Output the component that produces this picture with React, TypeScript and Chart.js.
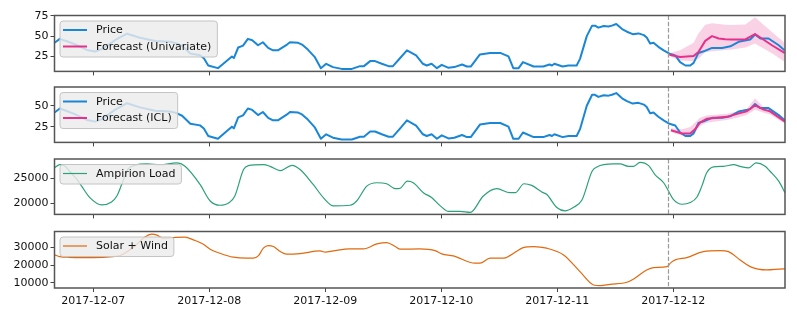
import React, { useEffect, useRef } from 'react';
import { Chart, registerables } from 'chart.js';

Chart.register(...registerables);

const FONT = '"DejaVu Sans", "Liberation Sans", sans-serif';
const X_MIN = 16;
const X_MAX = 167.1;
const CUTOFF = 143;

const dayTicks = [24, 48, 72, 96, 120, 144];
const dayLabels = ['2017-12-07', '2017-12-08', '2017-12-09', '2017-12-10', '2017-12-11', '2017-12-12'];

// hours since 2017-12-06 00:00
const priceHours = [
  16.0, 17.1, 18.4, 20.2, 22.7, 24.4, 25.8, 28.5, 31.0, 33.7, 36.8, 39.9, 41.1, 42.4, 44.1, 46.1, 46.9, 47.8, 49.8,
  51.9, 52.7, 53.1, 54.0, 55.0, 56.0, 56.9, 58.1, 59.1, 60.2, 61.2, 62.2, 64.1, 64.7, 66.4, 67.2, 68.4, 69.8, 71.1,
  72.2, 73.6, 75.4, 77.5, 79.2, 80.0, 81.3, 82.3, 83.7, 85.1, 86.0, 87.5, 88.9, 90.8, 92.2, 93.0, 94.0, 95.1, 96.1,
  97.5, 98.7, 100.3, 101.3, 102.1, 104.0, 106.1, 108.2, 109.9, 110.9, 112.0, 112.9, 115.1, 117.1, 118.4, 118.9,
  119.4, 121.1, 122.3, 124.0, 124.7, 126.1, 127.2, 127.8, 128.5, 129.6, 130.6, 131.3, 132.2, 133.4, 134.4, 135.6,
  136.8, 137.9, 138.5, 139.2, 139.9, 140.9, 142.0, 143.2, 144.4, 145.4, 146.5, 147.5, 148.2, 149.2, 150.3, 152.0,
  154.1, 155.8, 157.5, 159.9, 160.9, 162.0, 163.7, 165.8, 167.0,
];
const priceValues = [
  41.8, 46.7, 44, 40, 33, 31, 34, 45, 53, 48, 44, 43, 41.4, 38, 28.5, 26.5, 22.7, 13.8, 10.5,
  21, 25, 23, 36, 38.4, 46.7, 45, 38.8, 42.5, 35.5, 32.5, 32.5, 39.6, 42.5, 41.8, 39.6, 33.4, 24.5, 10.5,
  15.9, 11.8, 9.6, 9.6, 13, 13, 19.2, 19.2, 15.9, 13, 13, 23, 32.5, 26.3, 15.9, 13.8, 15.9, 10.5, 14.6,
  10.9, 11.8, 15, 12.5, 12.5, 27.5, 29.3, 29.3, 25, 10.5, 10.5, 18, 12.5, 12.5, 15, 13.8,
  15.9, 12.5, 13.8, 13.8, 22, 50, 63, 63, 60.5, 62.5, 62, 63, 65, 58.8, 55.5, 52.5,
  53.4, 51.3, 48.4, 40.9, 41.8, 36.8, 32.5, 28.4, 26.3, 18, 13.8, 13.8, 17, 29.3, 31.3, 35.5,
  35.5, 37.5, 43, 45.9, 52.1, 47.1, 47.1, 38.8, 32.5,
];

const uniHours = [143.2, 145.4, 148.2, 149.2, 150.6, 152.0, 153.4, 154.7, 156.1, 158.9, 160.9, 162.3, 164.4, 167.0];
const uniForecast = [27.1, 24.2, 25.4, 30.5, 44.2, 50, 47.1, 46.3, 45.9, 45.9, 52.5, 47.1, 38.8, 29.3];
const uniUpper = [29, 32.5, 42, 53.4, 64, 66, 65, 64, 63.8, 64.5, 73.4, 66, 55, 42];
const uniLower = [25.5, 20, 19, 22, 30, 31.5, 32, 33, 33.5, 36, 41, 36, 29, 18.5];

const iclHours = [143.5, 145.8, 147.5, 148.5, 149.5, 150.9, 153.0, 155.1, 157.2, 159.2, 160.9, 162.7, 164.0, 167.1];
const iclForecast = [20.7, 16.8, 16.8, 21.8, 29.7, 34.4, 35.5, 36.7, 40.2, 43.3, 50.3, 45.3, 43.3, 30.9];
const iclUpper = [23, 22, 24.5, 30, 35.5, 38.2, 39.5, 40.5, 43, 46, 59, 48, 45.3, 35.5];
const iclLower = [18.5, 14.5, 14, 18, 25.7, 29.7, 31.5, 33, 35.5, 39, 45.3, 41.5, 39.4, 28.5];

const loadHours = [
  16.0, 17.1, 18.2, 19.2, 20.6, 21.6, 23.3, 25.8, 27.8, 28.9, 30.0, 31.2, 32.7, 35.1, 37.8, 41.3, 43.0, 46.1, 48.2,
  50.2, 52.3, 53.3, 55.1, 56.1, 59.2, 60.6, 62.7, 65.1, 66.8, 69.5, 71.6, 73.7, 77.1, 78.5, 80.6, 82.7, 84.7, 86.5,
  87.5, 89.0, 90.2, 92.3, 94.0, 95.8, 97.5, 99.9, 102.0, 104.7, 107.5, 110.2, 111.3, 113.1, 114.7, 116.8, 117.8,
  119.9, 121.6, 123.3, 125.1, 127.2, 128.2, 131.6, 133.0, 134.7, 135.8, 137.1, 138.9, 140.2, 142.0, 143.0, 144.0,
  145.8, 147.5, 148.9, 149.9, 150.9, 152.3, 154.4, 156.5, 157.8, 159.6, 161.1, 163.0, 164.0, 165.8, 167.1,
];
const loadValues = [
  27050, 27700, 27400, 26300, 24800, 23420, 21130, 19670, 20260, 21440, 24000, 26800, 27600, 27840, 27700, 28040,
  27370, 23750, 20450, 19600, 20260, 21440, 26720, 27510, 27700, 27370, 26520, 27570, 26720, 23750, 21130, 19470,
  19600, 20450, 23420, 24090, 23890, 22900, 23000, 24400, 24090, 22110, 21130, 19470, 18360, 18360, 18160, 21440,
  22900, 22110, 22110, 23890, 23560, 22230, 21780, 19150, 18480, 19150, 20650, 26380, 27250, 27840, 27840, 27370,
  27370, 28160, 27510, 25730, 24090, 22430, 20790, 19800, 20140, 21250, 23420, 26070, 27250, 27370, 27700, 27370,
  27050, 28040, 27370, 26380, 24400, 22110,
];

const solarHours = [
  16.0, 17.1, 19.2, 24.0, 28.1, 29.6, 32.7, 34.7, 36.1, 37.2, 38.4, 40.6, 43.0, 44.7, 46.8, 48.2, 50.2, 53.0, 55.8,
  57.1, 58.2, 59.2, 60.2, 61.3, 62.7, 64.0, 66.8, 70.9, 72.0, 73.7, 77.1, 79.9, 82.7, 84.7, 86.5, 87.5, 91.6, 94.7,
  96.1, 98.5, 103.0, 104.0, 106.1, 108.9, 110.2, 113.0, 115.1, 117.8, 121.3, 124.7, 127.5, 128.9, 130.9, 134.4,
  135.8, 138.5, 139.9, 142.7, 143.5, 144.4, 146.8, 150.2, 153.7, 155.4, 157.8, 159.9, 163.3, 166.8, 167.1,
];
const solarValues = [
  25850, 24890, 24500, 24300, 24890, 25500, 31000, 36000, 37560, 37000, 35300, 35640, 35870, 34340, 31900, 29070,
  26810, 24550, 23980, 23980, 25450, 29640, 31110, 30550, 27720, 26240, 26580, 28110, 27380, 28110, 29240, 29240,
  32070, 32810, 30550, 29070, 29240, 28280, 26410, 25280, 21150, 21150, 23980, 23980, 25450, 29980, 30550, 29640,
  25850, 16400, 8870, 8470, 9260, 10400, 12260, 17360, 18660, 19220, 21490, 23020, 24320, 27720, 28280, 27720,
  23020, 19220, 17360, 17920, 17900,
];

const BLUE = '#1a87d6';
const PINK = '#e6318a';
const BAND = 'rgba(232, 51, 140, 0.22)';
const GREEN = '#2ba07a';
const ORANGE = '#e2690f';

const pts = (xs: number[], ys: number[]) => xs.map((x, i) => ({ x, y: ys[i] }));

type LegendItem = { label: string; color: string; width: number };

function lineDs(label: string, xs: number[], ys: number[], color: string, width: number, smooth = false) {
  return {
    label,
    data: pts(xs, ys),
    borderColor: color,
    backgroundColor: color,
    borderWidth: width,
    pointRadius: 0,
    fill: false,
    tension: 0,
    cubicInterpolationMode: smooth ? 'monotone' : 'default',
    borderJoinStyle: 'round',
    borderCapStyle: 'butt',
  };
}

function bandDs(xs: number[], upper: number[], lower: number[]) {
  return [
    { label: 'upper', data: pts(xs, upper), borderWidth: 0, pointRadius: 0, fill: '+1', backgroundColor: BAND, borderColor: 'rgba(0,0,0,0)' },
    { label: 'lower', data: pts(xs, lower), borderWidth: 0, pointRadius: 0, fill: false, borderColor: 'rgba(0,0,0,0)' },
  ];
}

type PanelCfg = {
  top: number;
  padTop: number;
  areaH: number;
  xh: number;
  yMin: number;
  yMax: number;
  yTicks: number[];
  showX: boolean;
  datasets: any[];
  legend: LegendItem[];
};

const panels: PanelCfg[] = [
  {
    top: 0, padTop: 15.5, areaH: 56, xh: 8.5, yMin: 6.5, yMax: 75.5, yTicks: [25, 50, 75], showX: false,
    datasets: [
      lineDs('Forecast (Univariate)', uniHours, uniForecast, PINK, 2),
      lineDs('Price', priceHours, priceValues, BLUE, 2),
      ...bandDs(uniHours, uniUpper, uniLower),
    ],
    legend: [
      { label: 'Price', color: BLUE, width: 2 },
      { label: 'Forecast (Univariate)', color: PINK, width: 2 },
    ],
  },
  {
    top: 75, padTop: 12, areaH: 56, xh: 8, yMin: 6.2, yMax: 72.3, yTicks: [25, 50], showX: false,
    datasets: [
      lineDs('Forecast (ICL)', iclHours, iclForecast, PINK, 2),
      lineDs('Price', priceHours, priceValues, BLUE, 2),
      ...bandDs(iclHours, iclUpper, iclLower),
    ],
    legend: [
      { label: 'Price', color: BLUE, width: 2 },
      { label: 'Forecast (ICL)', color: PINK, width: 2 },
    ],
  },
  {
    top: 147, padTop: 12, areaH: 56, xh: 8, yMin: 17770, yMax: 28830, yTicks: [20000, 25000], showX: false,
    datasets: [lineDs('Ampirion Load', loadHours, loadValues, GREEN, 1.2, true)],
    legend: [{ label: 'Ampirion Load', color: GREEN, width: 1.2 }],
  },
  {
    top: 219, padTop: 12.5, areaH: 56.5, xh: 31, yMin: 7170, yMax: 39050, yTicks: [10000, 20000, 30000], showX: true,
    datasets: [lineDs('Solar + Wind', solarHours, solarValues, ORANGE, 1.2, true)],
    legend: [{ label: 'Solar + Wind', color: ORANGE, width: 1.2 }],
  },
];

function makeDecor(items: LegendItem[]) {
  return {
    id: 'decor',
    afterDatasetsDraw(chart: any) {
      const ctx = chart.ctx as CanvasRenderingContext2D;
      const a = chart.chartArea;
      const x = chart.scales.x;
      ctx.save();
      // forecast cut-off
      const cx = x.getPixelForValue(CUTOFF);
      ctx.strokeStyle = '#9a9a9a';
      ctx.lineWidth = 1.2;
      ctx.setLineDash([4.4, 1.9]);
      ctx.beginPath();
      ctx.moveTo(cx, a.top);
      ctx.lineTo(cx, a.bottom);
      ctx.stroke();
      ctx.setLineDash([]);
      // frame
      ctx.strokeStyle = '#555555';
      ctx.lineWidth = 1.5;
      ctx.strokeRect(a.left, a.top, a.right - a.left, a.bottom - a.top);
      // legend
      ctx.font = `11px ${FONT}`;
      const tw = Math.max(...items.map((it) => ctx.measureText(it.label).width));
      const rowH = 16.5;
      const bx = a.left + 5.5;
      const by = a.top + 5.5;
      const bw = 36 + tw + 6;
      const bh = items.length * rowH + 3;
      ctx.beginPath();
      (ctx as any).roundRect(bx, by, bw, bh, 3);
      ctx.fillStyle = 'rgba(236, 236, 236, 0.82)';
      ctx.fill();
      ctx.strokeStyle = '#c4c4c4';
      ctx.lineWidth = 1;
      ctx.stroke();
      items.forEach((it, i) => {
        const cy = by + 9 + i * rowH;
        ctx.strokeStyle = it.color;
        ctx.lineWidth = it.width;
        ctx.beginPath();
        ctx.moveTo(bx + 3, cy);
        ctx.lineTo(bx + 27, cy);
        ctx.stroke();
        ctx.fillStyle = '#111';
        ctx.textBaseline = 'middle';
        ctx.textAlign = 'left';
        ctx.fillText(it.label, bx + 36, cy + 0.5);
      });
      ctx.restore();
    },
  };
}

function Panel({ cfg }: { cfg: PanelCfg }) {
  const ref = useRef<HTMLCanvasElement>(null);
  const h = Math.round(cfg.padTop + cfg.areaH + cfg.xh);
  useEffect(() => {
    if (!ref.current) return;
    const chart = new Chart(ref.current, {
      type: 'line',
      data: { datasets: cfg.datasets },
      options: {
        responsive: false,
        animation: false,
        devicePixelRatio: 1,
        layout: { padding: { top: cfg.padTop, right: 12, left: 0, bottom: 0 } },
        plugins: { legend: { display: false }, tooltip: { enabled: false } },
        elements: { line: { borderJoinStyle: 'round' } },
        scales: {
          x: {
            type: 'linear',
            min: X_MIN,
            max: X_MAX,
            afterBuildTicks: (s: any) => {
              s.ticks = dayTicks.map((v) => ({ value: v }));
            },
            afterFit: (s: any) => {
              s.height = cfg.xh;
            },
            grid: { drawOnChartArea: false, drawTicks: true, tickLength: 4, tickColor: '#444', tickWidth: 1 },
            border: { display: false },
            ticks: {
              display: cfg.showX,
              autoSkip: false,
              maxRotation: 0,
              padding: 3,
              color: '#111',
              font: { family: FONT, size: 11 },
              callback: (v: any) => dayLabels[dayTicks.indexOf(Number(v))] ?? '',
            },
          },
          y: {
            type: 'linear',
            min: cfg.yMin,
            max: cfg.yMax,
            afterBuildTicks: (s: any) => {
              s.ticks = cfg.yTicks.map((v) => ({ value: v }));
            },
            afterFit: (s: any) => {
              s.width = 54.5;
            },
            grid: { drawOnChartArea: false, drawTicks: true, tickLength: 4, tickColor: '#444', tickWidth: 1 },
            border: { display: false },
            ticks: {
              padding: 2,
              color: '#111',
              font: { family: FONT, size: 11 },
              callback: (v: any) => String(v),
            },
          },
        },
      } as any,
      plugins: [makeDecor(cfg.legend)],
    });
    return () => chart.destroy();
  }, []);
  return (
    <canvas
      ref={ref}
      width={797}
      height={h}
      style={{ position: 'absolute', left: 0, top: cfg.top, width: 797, height: h }}
    />
  );
}

export default function App() {
  return (
    <div style={{ position: 'absolute', left: 0, top: 0, width: 797, height: 319, background: '#fff' }}>
      {panels.map((p, i) => (
        <Panel key={i} cfg={p} />
      ))}
    </div>
  );
}
